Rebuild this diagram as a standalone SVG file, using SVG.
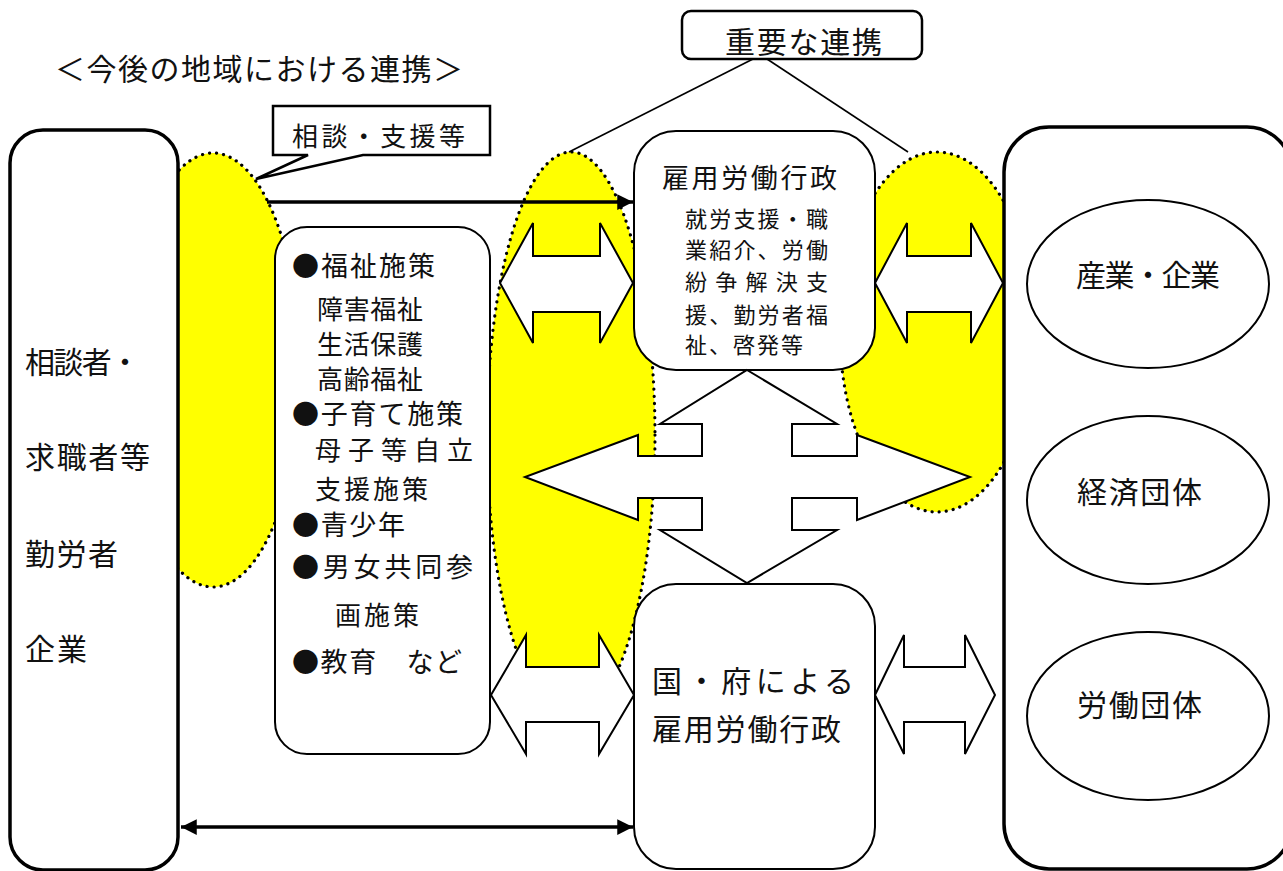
<svg xmlns="http://www.w3.org/2000/svg" width="1283" height="871" viewBox="0 0 1283 871">
<style>
text{font-family:"Noto Sans CJK JP","Noto Sans",sans-serif;fill:#111;dominant-baseline:central}
.box{fill:#fff;stroke:#000;stroke-width:2}
.thick{fill:#fff;stroke:#000;stroke-width:3.5}
.hl{fill:#ffff00;stroke:#000;stroke-width:3.2;stroke-dasharray:0.1 7;stroke-linecap:round}
.blk{fill:#fff;stroke:#000;stroke-width:2;stroke-linejoin:miter}
.ln{fill:none;stroke:#000;stroke-width:1.6}
.arr{fill:none;stroke:#000;stroke-width:3.5}
.t30{font-size:30px}
.t27{font-size:27px}
.t26{font-size:26px}
.t22{font-size:22px}
</style>
<defs>
<marker id="ah" viewBox="0 0 10 10" refX="10" refY="5" markerWidth="4.5" markerHeight="4.5" orient="auto-start-reverse" markerUnits="strokeWidth">
<path d="M0,0 L10,5 L0,10 Z" fill="#000"/>
</marker>
</defs>

<text id="title" class="t30" x="55" y="67" textLength="408" lengthAdjust="spacing">＜今後の地域における連携＞</text>

<g id="highlights">
<ellipse class="hl" cx="213" cy="370" rx="87" ry="217"/>
<ellipse class="hl" cx="571" cy="435" rx="84" ry="283"/>
<ellipse class="hl" cx="937" cy="332" rx="97" ry="180"/>
</g>

<g id="node-left">
<rect class="thick" x="10" y="130" width="168" height="740" rx="33"/>
<text class="t30" x="25" y="360" textLength="115" lengthAdjust="spacing">相談者・</text>
<text class="t30" x="25" y="455" textLength="125" lengthAdjust="spacing">求職者等</text>
<text class="t30" x="25" y="552" textLength="93" lengthAdjust="spacing">勤労者</text>
<text class="t30" x="25" y="647" textLength="62" lengthAdjust="spacing">企業</text>
</g>

<g id="node-welfare">
<rect class="box" x="275" y="227" width="215" height="527" rx="32"/>
<text class="t27" x="292" y="264" textLength="143" lengthAdjust="spacing">●福祉施策</text>
<text class="t26" x="317" y="307" textLength="106" lengthAdjust="spacing">障害福祉</text>
<text class="t26" x="317" y="342" textLength="106" lengthAdjust="spacing">生活保護</text>
<text class="t26" x="317" y="377" textLength="106" lengthAdjust="spacing">高齢福祉</text>
<text class="t27" x="292" y="412" textLength="171" lengthAdjust="spacing">●子育て施策</text>
<text class="t26" x="315" y="448" textLength="158" lengthAdjust="spacing">母子等自立</text>
<text class="t26" x="315" y="487" textLength="113" lengthAdjust="spacing">支援施策</text>
<text class="t27" x="292" y="523" textLength="113" lengthAdjust="spacing">●青少年</text>
<text class="t27" x="292" y="565" textLength="181" lengthAdjust="spacing">●男女共同参</text>
<text class="t26" x="335" y="613" textLength="84" lengthAdjust="spacing">画施策</text>
<text class="t27" x="292" y="660" textLength="170" lengthAdjust="spacing">●教育　など</text>
</g>

<g id="node-admin-local">
<rect class="box" x="634" y="131" width="241" height="239" rx="42"/>
<text class="t27" x="662" y="176" textLength="175" lengthAdjust="spacing">雇用労働行政</text>
<text class="t22" x="685" y="217" textLength="143" lengthAdjust="spacing">就労支援・職</text>
<text class="t22" x="685" y="248" textLength="143" lengthAdjust="spacing">業紹介、労働</text>
<text class="t22" x="685" y="280" textLength="143" lengthAdjust="spacing">紛争解決支</text>
<text class="t22" x="685" y="313" textLength="143" lengthAdjust="spacing">援、勤労者福</text>
<text class="t22" x="685" y="343" textLength="118" lengthAdjust="spacing">祉、啓発等</text>
</g>

<g id="node-admin-national">
<rect class="box" x="634" y="584" width="241" height="285" rx="42"/>
<text class="t30" x="652" y="679" textLength="202" lengthAdjust="spacing">国・府による</text>
<text class="t30" x="652" y="727" textLength="189" lengthAdjust="spacing">雇用労働行政</text>
</g>

<g id="node-right">
<rect class="thick" x="1004" y="127" width="288" height="742" rx="45"/>
</g>
<g id="node-industry">
<ellipse class="box" cx="1148" cy="284" rx="121" ry="84"/>
<text class="t30" x="1076" y="273" textLength="144" lengthAdjust="spacing">産業・企業</text>
</g>
<g id="node-economic">
<ellipse class="box" cx="1148" cy="500" rx="121" ry="84"/>
<text class="t30" x="1077" y="490" textLength="125" lengthAdjust="spacing">経済団体</text>
</g>
<g id="node-labor">
<ellipse class="box" cx="1148" cy="716" rx="121" ry="84"/>
<text class="t30" x="1077" y="703" textLength="125" lengthAdjust="spacing">労働団体</text>
</g>

<g id="node-important">
<rect class="box" x="682" y="11" width="240" height="48" rx="9" style="stroke-width:2.5"/>
<text class="t30" x="725" y="40" textLength="157" lengthAdjust="spacing">重要な連携</text>
</g>

<g id="node-consult">
<path class="box" d="M273,106 H490 V155 H363 L256,179 L308,155 H273 Z" style="stroke-width:2.5"/>
<text class="t26" x="292" y="134" textLength="173" lengthAdjust="spacing">相談・支援等</text>
</g>

<g id="connectors">
<line class="ln" x1="753" y1="59" x2="569" y2="152"/>
<line class="ln" x1="767" y1="59" x2="908" y2="152"/>
<line class="arr" x1="267" y1="202" x2="633" y2="202" marker-end="url(#ah)"/>
<line class="arr" x1="181" y1="827" x2="633" y2="827" marker-start="url(#ah)" marker-end="url(#ah)"/>
<path class="blk" d="M500,283 L533,223 L533,256 L600,256 L600,223 L633,283 L600,343 L600,312 L533,312 L533,343 Z"/>
<path class="blk" d="M875,283 L907,223 L907,256 L971,256 L971,223 L1003,283 L971,343 L971,312 L907,312 L907,343 Z"/>
<path class="blk" d="M491,695 L526,635 L526,667 L599,667 L599,635 L634,695 L599,754 L599,722 L526,722 L526,754 Z"/>
<path class="blk" d="M875,695 L904,635 L904,667 L965,667 L965,635 L995,695 L965,754 L965,722 L904,722 L904,754 Z"/>
<path class="blk" d="M747,370 L837,424 L792,424 L792,456 L857,456 L857,435 L970,477 L857,520 L857,498 L792,498 L792,530 L837,530 L747,583 L660,530 L702,530 L702,498 L638,498 L638,520 L525,477 L638,435 L638,456 L702,456 L702,424 L660,424 Z"/>
</g>
</svg>
